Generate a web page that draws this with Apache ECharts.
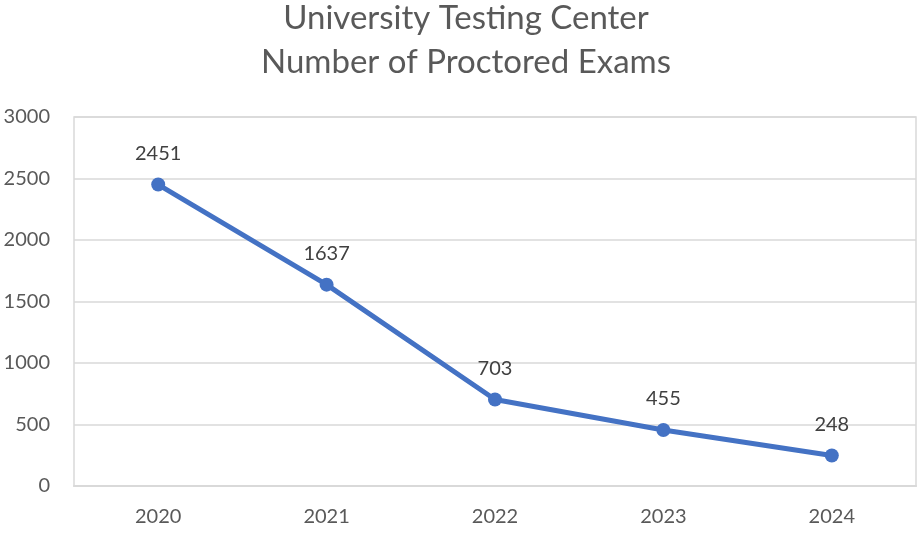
<!DOCTYPE html>
<html>
<head>
<meta charset="utf-8">
<script src="https://cdn.jsdelivr.net/npm/echarts@6/dist/echarts.min.js"></script>
<style>
  html, body { margin: 0; padding: 0; background: #fff; }
  #chart { width: 918px; height: 533px; }
</style>
</head>
<body>
<div id="chart"></div>
<script>
// data
var years = ['2020', '2021', '2022', '2023', '2024'];
var exams = [2451, 1637, 703, 455, 248];
var yTicks = [0, 500, 1000, 1500, 2000, 2500, 3000];

var fontName = 'Lato';
var myChart = echarts.init(document.getElementById('chart'));
var option = {
    animation: false,
    title: {
        text: 'University Testing Center\nNumber of Proctored Exams',
        left: 466,
        textAlign: 'center',
        top: -4,
        padding: 0,
        textStyle: {
            fontFamily: fontName,
            fontSize: 33,
            fontWeight: 'normal',
            color: '#595959',
            lineHeight: 44
        }
    },
    grid: {
        left: 74,
        right: 2,
        top: 117,
        bottom: 47,
        show: true,
        borderColor: '#d9d9d9',
        borderWidth: 1.5
    },
    xAxis: {
        type: 'category',
        data: years,
        boundaryGap: true,
        axisLine: { lineStyle: { color: '#d9d9d9', width: 2 } },
        axisTick: { show: false },
        axisLabel: {
            fontFamily: fontName,
            fontSize: 20,
            color: '#595959',
            margin: 21
        }
    },
    yAxis: {
        type: 'value',
        min: yTicks[0],
        max: yTicks[yTicks.length - 1],
        interval: 500,
        axisLine: { show: false },
        axisTick: { show: false },
        splitLine: { lineStyle: { color: '#d9d9d9', width: 1.5 } },
        axisLabel: {
            fontFamily: fontName,
            fontSize: 20,
            color: '#595959',
            margin: 24,
            formatter: function (v) { return String(v); }
        }
    },
    series: [{
        type: 'line',
        data: exams,
        symbol: 'circle',
        symbolSize: 14,
        lineStyle: { color: '#4472c4', width: 5 },
        itemStyle: { color: '#4472c4' },
        label: {
            show: true,
            position: 'top',
            distance: 14,
            fontFamily: fontName,
            fontSize: 20,
            color: '#404040'
        }
    }]
};
myChart.setOption(option);
</script>
</body>
</html>
